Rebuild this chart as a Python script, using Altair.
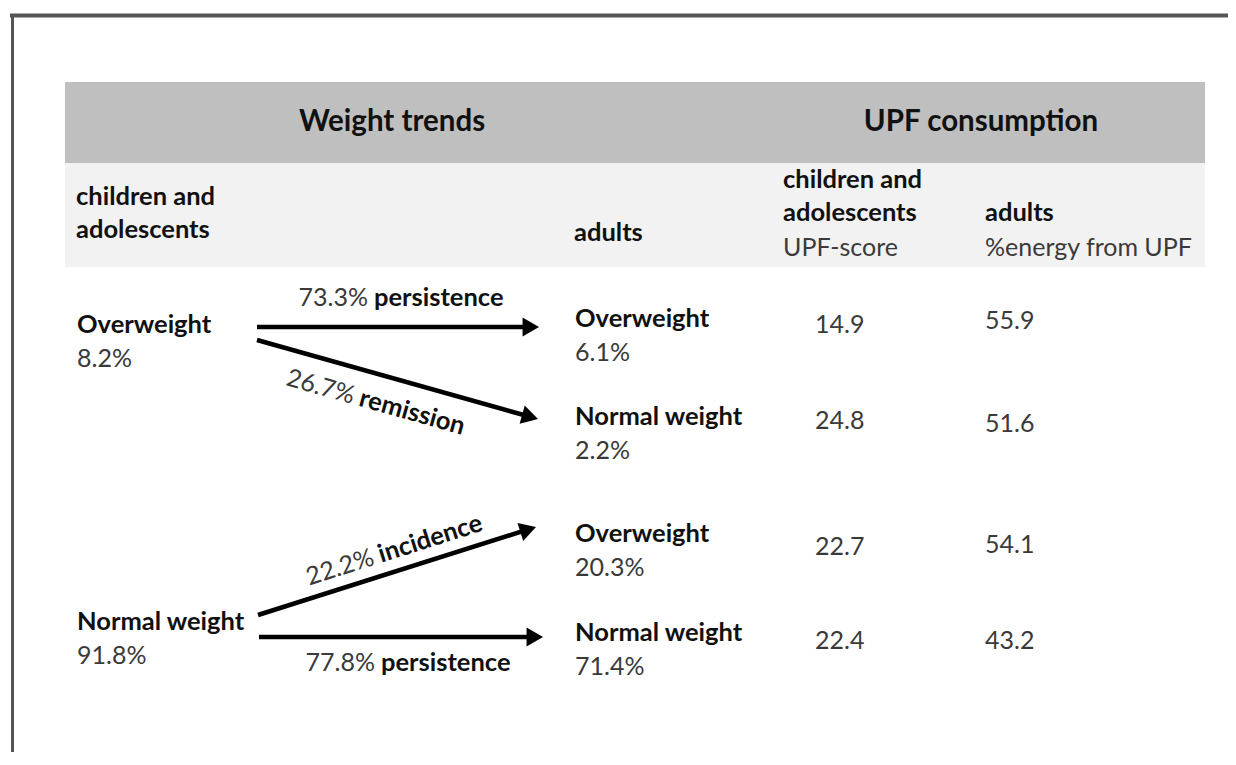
import math
import altair as alt
import pandas as pd

# ---------------- data ----------------
section_titles = ["Weight trends", "UPF consumption"]
sub_left = ["children and", "adolescents"]
sub_adults = "adults"
sub_upf_child = ["children and", "adolescents"]
sub_upf_child_unit = "UPF-score"
sub_upf_adult = "adults"
sub_upf_adult_unit = "%energy from UPF"

child_status = ["Overweight", "Normal weight"]
child_share = ["8.2%", "91.8%"]
adult_status = ["Overweight", "Normal weight", "Overweight", "Normal weight"]
adult_share = ["6.1%", "2.2%", "20.3%", "71.4%"]
upf_score_children = [14.9, 24.8, 22.7, 22.4]
upf_energy_adults = [55.9, 51.6, 54.1, 43.2]
transition_pct = ["73.3%", "26.7%", "22.2%", "77.8%"]
transition_type = ["persistence", "remission", "incidence", "persistence"]

# ---------------- layout (pixel positions of the diagram) ----------------
FONT = "Lato"
FS_B = 25.5
FS_R = 25
FS_HEAD = 29.5
DARK = "#111111"
GREY = "#3a3a3a"

child_xy = [(77, 325), (77, 622)]
adult_xy = [(575, 319), (575, 417), (575, 534), (575, 633)]
share_dy = 34
col_upf1_x, col_upf2_x = 815, 985
upf1_y = [325, 421, 547, 641]
upf2_y = [321, 424, 545, 641]
# arrows: start point, tip point
arrow_geom = [((257, 327), (539, 327)),
              ((257, 340), (538, 419)),
              ((258, 615), (536, 527)),
              ((259, 637), (543, 637))]
# junction between number and word of each arrow label
label_anchor = [(371, 298), (357, 397), (376, 556), (378, 663)]
HEAD_SIZE = 360

# ---------------- build tables ----------------
bands = pd.DataFrame({
    "x": [65, 65], "x2": [1205, 1205],
    "y": [82, 163], "y2": [163, 267],
    "fill": ["#bfbfbf", "#f2f2f2"],
})
borders = pd.DataFrame({
    "x": [10, 12.5], "x2": [1236, 12.5],
    "y": [15.5, 14], "y2": [15.5, 765],
    "w": [4, 3],
})

rows_line, rows_head = [], []
for (p0, p1) in arrow_geom:
    ang = math.atan2(p1[1] - p0[1], p1[0] - p0[0])
    h = math.sqrt(3) * (math.sqrt(HEAD_SIZE) / 2) / 2
    cx = p1[0] - h * math.cos(ang)
    cy = p1[1] - h * math.sin(ang)
    rows_line.append({"x": p0[0], "y": p0[1], "x2": cx, "y2": cy})
    rows_head.append({"x": cx, "y": cy, "ang": math.degrees(ang) % 360})
arrows = pd.DataFrame(rows_line)
heads = pd.DataFrame(rows_head)

bold_left = []
for t, y in zip(sub_left, [197, 230]):
    bold_left.append({"t": t, "x": 76, "y": y})
bold_left.append({"t": sub_adults, "x": 574, "y": 233})
for t, y in zip(sub_upf_child, [180, 213]):
    bold_left.append({"t": t, "x": 783, "y": y})
bold_left.append({"t": sub_upf_adult, "x": 985, "y": 213})
for t, (x, y) in zip(child_status, child_xy):
    bold_left.append({"t": t, "x": x, "y": y})
for t, (x, y) in zip(adult_status, adult_xy):
    bold_left.append({"t": t, "x": x, "y": y})
bold_left = pd.DataFrame(bold_left)

reg_left = [{"t": sub_upf_child_unit, "x": 783, "y": 248},
            {"t": sub_upf_adult_unit, "x": 985, "y": 248}]
for t, (x, y) in zip(child_share, child_xy):
    reg_left.append({"t": t, "x": x, "y": y + share_dy})
for t, (x, y) in zip(adult_share, adult_xy):
    reg_left.append({"t": t, "x": x, "y": y + share_dy})
for v, y in zip(upf_score_children, upf1_y):
    reg_left.append({"t": f"{v:.1f}", "x": col_upf1_x, "y": y})
for v, y in zip(upf_energy_adults, upf2_y):
    reg_left.append({"t": f"{v:.1f}", "x": col_upf2_x, "y": y})
reg_left = pd.DataFrame(reg_left)

heads_txt = pd.DataFrame({"t": section_titles, "x": [392, 981], "y": [122, 122]})

lab_rows = []
for pct, word, (x, y), (p0, p1) in zip(transition_pct, transition_type, label_anchor, arrow_geom):
    ang = math.degrees(math.atan2(p1[1] - p0[1], p1[0] - p0[0])) % 360
    lab_rows.append({"num": pct, "word": word, "x": x, "y": y, "ang": ang})
labels = pd.DataFrame(lab_rows)

# ---------------- chart ----------------
X = alt.X("x:Q", scale=alt.Scale(domain=[8, 1228], nice=False, zero=False), axis=None)
Y = alt.Y("y:Q", scale=alt.Scale(domain=[8, 752], nice=False, zero=False, reverse=True), axis=None)

band_layer = alt.Chart(bands).mark_rect().encode(
    x=X, x2="x2:Q", y=Y, y2="y2:Q", color=alt.Color("fill:N", scale=None))

border_layer = alt.Chart(borders).mark_rule(color="#555555").encode(
    x=X, x2="x2:Q", y=Y, y2="y2:Q", strokeWidth=alt.StrokeWidth("w:Q", scale=None))

arrow_layer = alt.Chart(arrows).mark_rule(color="#000000", strokeWidth=4.5).encode(
    x=X, x2="x2:Q", y=Y, y2="y2:Q")

head_layer = alt.Chart(heads).mark_point(
    shape="triangle-right", filled=True, color="#000000", opacity=1, size=HEAD_SIZE
).encode(x=X, y=Y, angle=alt.Angle("ang:Q", scale=None))

bold_layer = alt.Chart(bold_left).mark_text(
    font=FONT, fontSize=FS_B, fontWeight="bold", color=DARK, align="left", baseline="middle"
).encode(x=X, y=Y, text="t:N")

reg_layer = alt.Chart(reg_left).mark_text(
    font=FONT, fontSize=FS_R, color=GREY, align="left", baseline="middle"
).encode(x=X, y=Y, text="t:N")

title_layer = alt.Chart(heads_txt).mark_text(
    font=FONT, fontSize=FS_HEAD, fontWeight="bold", color=DARK, align="center", baseline="middle"
).encode(x=X, y=Y, text="t:N")

num_layer = alt.Chart(labels).mark_text(
    font=FONT, fontSize=FS_R, color=GREY, align="right", baseline="middle", dx=-3
).encode(x=X, y=Y, text="num:N", angle=alt.Angle("ang:Q", scale=None))

word_layer = alt.Chart(labels).mark_text(
    font=FONT, fontSize=FS_B, fontWeight="bold", color=DARK, align="left", baseline="middle", dx=3
).encode(x=X, y=Y, text="word:N", angle=alt.Angle("ang:Q", scale=None))

chart = alt.layer(
    band_layer, border_layer, arrow_layer, head_layer,
    bold_layer, reg_layer, title_layer, num_layer, word_layer
).properties(
    width=1220, height=744, padding=0, autosize="none", background="#ffffff"
).configure_view(stroke=None)

chart.save("out.html", embed_options={"renderer": "svg", "actions": False})
